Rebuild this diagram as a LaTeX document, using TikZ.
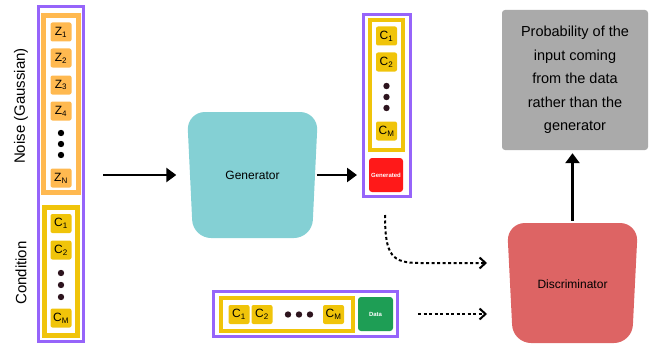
\documentclass[tikz,border=0pt]{standalone}
\usepackage{fontspec}
\setmainfont{Liberation Sans}
\usetikzlibrary{arrows.meta}

\definecolor{ganpurple}{RGB}{150,100,250}
\definecolor{ganorange}{RGB}{255,185,80}
\definecolor{ganyellow}{RGB}{240,196,10}
\definecolor{genteal}{RGB}{132,208,212}
\definecolor{discred}{RGB}{221,100,100}
\definecolor{probgray}{RGB}{170,170,170}
\definecolor{genred}{RGB}{255,25,25}
\definecolor{datagreen}{RGB}{30,158,85}
\definecolor{dotcol}{RGB}{45,20,30}

\tikzset{
  item/.style={rounded corners=2pt, minimum width=21pt, minimum height=19pt,
    inner sep=0pt, font=\fontsize{12}{12}\selectfont},
  zitem/.style={item, fill=ganorange},
  citem/.style={item, fill=ganyellow},
  outerframe/.style={draw=ganpurple, line width=3pt, inner sep=0pt},
  innerframe/.style={line width=4pt, inner sep=0pt},
  netbox/.style={inner sep=0pt, font=\fontsize{12}{14}\selectfont},
  netshape/.style={rounded corners=18pt},
  tagbox/.style={rounded corners=3pt, inner sep=0pt, text=white,
    font=\fontsize{6}{6}\selectfont\bfseries},
  sidelabel/.style={rotate=90, font=\fontsize{15}{17}\selectfont},
  solidarrow/.style={line width=2.5pt, -{Triangle[length=10pt,width=14pt]}},
  dotarrow/.style={line width=2pt, dash pattern=on 3pt off 2.5pt,
    -{Straight Barb[length=6pt,width=11pt]}}
}

\begin{document}
\begin{tikzpicture}[x=1pt,y=-1pt]
  \useasboundingbox (0,0) rectangle (650,345);

  \node[sidelabel] (noiselbl) at (21,106) {Noise (Gaussian)};
  \node[sidelabel] (condlbl) at (21,273) {Condition};

  \node[outerframe, minimum width=45pt, minimum height=335pt] (inframe) at (61,174) {};
  \node[innerframe, draw=ganorange, line width=5pt, minimum width=35pt, minimum height=177pt] (noise) at (61,104) {};
  \node[innerframe, draw=ganyellow, line width=5pt, minimum width=33pt, minimum height=128pt] (cond) at (61,271.5) {};

  \foreach \i/\y in {1/32,2/58,3/85,4/111}
    \node[zitem] (z\i) at (61,\y) {Z\textsubscript{\i}};
  \node[zitem] (zn) at (61,178) {Z\textsubscript{N}};
  \foreach \y in {133,144,155} \fill[black] (61,\y) circle (3.2pt);

  \node[citem] (c1) at (61,223.5) {C\textsubscript{1}};
  \node[citem] (c2) at (61,250) {C\textsubscript{2}};
  \node[citem] (cm) at (61,318) {C\textsubscript{M}};
  \foreach \y in {273,285,297} \fill[dotcol] (61,\y) circle (3.2pt);

  \fill[genteal, netshape] (187,112) -- (318,112) -- (312,238) -- (193,238) -- cycle;
  \node[netbox, minimum width=128pt, minimum height=126pt] (gen) at (252.5,175) {Generator};

  \node[outerframe, minimum width=47pt, minimum height=182pt] (genframe) at (387,105.5) {};
  \node[innerframe, draw=ganyellow, minimum width=33pt, minimum height=130pt] (gencond) at (386.5,85) {};
  \node[citem] (gc1) at (386.5,36) {C\textsubscript{1}};
  \node[citem] (gc2) at (386.5,62) {C\textsubscript{2}};
  \node[citem] (gcm) at (386.5,131) {C\textsubscript{M}};
  \foreach \y in {86,97,108} \fill[dotcol] (386.5,\y) circle (3.2pt);
  \node[tagbox, fill=genred, minimum width=34pt, minimum height=34pt] (generated) at (386,175) {Generated};

  \node[outerframe, minimum width=184pt, minimum height=45pt] (dataframe) at (305.5,314) {};
  \node[innerframe, draw=ganyellow, minimum width=132pt, minimum height=33pt] (datacond) at (287,314.5) {};
  \node[citem] (dc1) at (239,314.5) {C\textsubscript{1}};
  \node[citem] (dc2) at (262,314.5) {C\textsubscript{2}};
  \node[citem] (dcm) at (333.5,314.5) {C\textsubscript{M}};
  \foreach \x in {288,299,310} \fill[dotcol] (\x,314.5) circle (3.2pt);
  \node[tagbox, fill=datagreen, minimum width=35pt, minimum height=34pt] (data) at (375.5,314) {Data};

  \fill[discred, netshape] (507,223) -- (638,223) -- (632,343) -- (513,343) -- cycle;
  \node[netbox, minimum width=128pt, minimum height=120pt] (disc) at (572.5,284) {Discriminator};

  \node[fill=probgray, rounded corners=3pt, minimum width=146pt, minimum height=140pt,
    align=center, font=\fontsize{14.5}{23.5}\selectfont] (prob) at (575,80)
    {Probability of the\\input coming\\from the data\\rather than the\\generator};

  \coordinate (gstart) at (385,215);
  \coordinate (gturn) at (420,263);
  \coordinate (dtop) at (487,263);
  \coordinate (dbot) at (487,314);

  \draw[solidarrow, shorten <=18pt, shorten >=12pt] (inframe.east |- gen.west) -- (gen.west);
  \draw[solidarrow, shorten >=5pt] (gen.east) -- (gen.east -| genframe.west);
  \draw[solidarrow, shorten >=3pt] ([yshift=3pt]disc.north) -- (disc.north |- prob.south);

  \draw[dotarrow] (gstart) .. controls (385,256) and (392,263) .. (gturn) -- (dtop);
  \draw[dotarrow, shorten <=19pt] (dataframe.east) -- (dbot);
\end{tikzpicture}
\end{document}
